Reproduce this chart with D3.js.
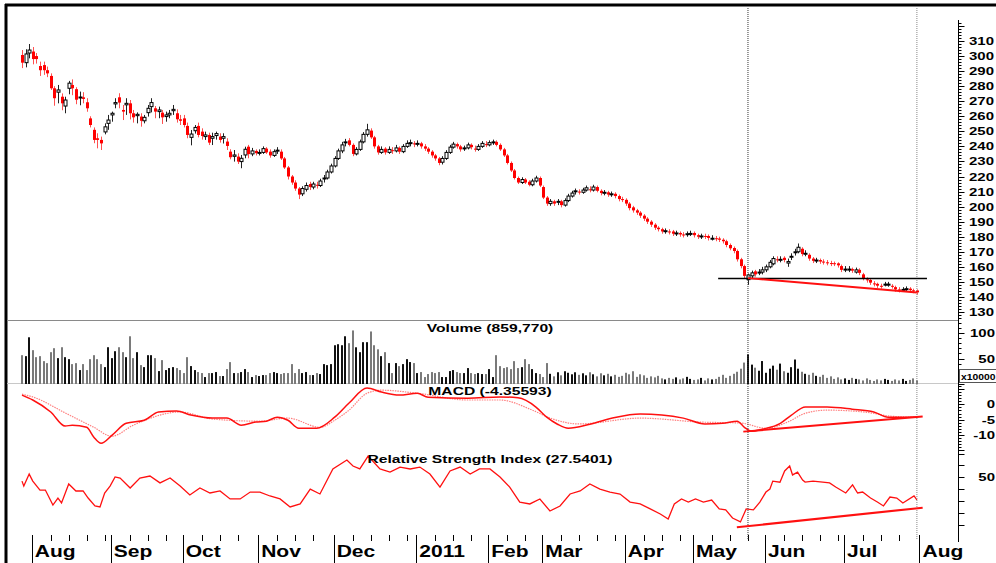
<!DOCTYPE html>
<html>
<head>
  <meta charset="utf-8">
  <title>Price chart</title>
  <script src="https://d3js.org/d3.v7.min.js"></script>
  <style>
    body { margin: 0; background: #fff; }
    text { font-family: "Liberation Sans", Arial, sans-serif; font-weight: bold; fill: #000; }
  </style>
</head>
<body>
<script>
// daily candles, one per trading day
var openP  = [300.7,295.6,302,303,300,293.4,294,290.6,286.8,278.6,276,273,266.8,278.6,280.8,278,272.2,272.6,269.3,258.6,251,245.4,244.3,249.6,255.3,260.9,268.2,272.6,264.2,267.6,268.6,262,260.4,259.8,257,262.4,266.4,265.3,263.1,262.4,259.8,260.9,263.7,262,258,258.6,253.6,246,250.4,253.6,249.8,246.5,247.6,245.4,247.2,246.5,245.4,243.2,236.5,233.4,233.2,229.9,234.3,239.8,
  235,237,235.5,236,238.5,236.5,234,237,236.5,232,
  226,220,216,212,208.5,211.5,215,213,214.5,214,
  218.5,219,223,227,232,237,242.5,244,241,235,
  238,243,248,250.5,246,240,236,238.5,236,237.5,
  237,239,236.5,240,242,242,241.5,242,240,238.5,
  236.5,234,232,229.5,232,236,239.5,241.5,240,238.5,
  239,241,238.5,238,240,241.5,241,242.5,243,241,
  238,234,229,224,219,216,218,216.5,214.5,217,
  219,213,206,202,203.5,203,203.5,201,204,207,
  210,210,209.5,211,211.5,211,213,210.5,209,209.5,
  208,208.5,207,205,204.5,202,199.5,197.5,196,194,
  192,190,188,186,185,183.5,183.5,183.5,182,182.5,
  181.5,181.5,182,182.5,181,180,180.5,180.5,178.5,179,
  178.8,178,177,174.5,172.5,170.5,165,160.5,151.5,154,
  157,156,156.5,158,160,162,165,164.5,166,162.5,
  166.5,169.5,170,172,168.5,168,165.5,164,164.5,163.5,
  163,162.5,162.4,162.3,160.5,158,158,158.5,156.5,158,
  155,151.7,151.3,149,148.7,147.4,148,148.2,147.4,146.5,
  145,144.6,145,145.5,144.4,144.3];
var highP  = [304,304.5,308,306,302,296.3,296.3,293,288.5,280,280.8,275.2,273,283.5,284.5,279.3,276.4,276,272,260,252.6,248.7,246.5,255.3,260.9,263.1,272,275.3,267.5,272,270.8,264.2,262.6,262,260.9,267.5,272,266.8,266.4,264.2,263.1,264.2,267.5,264.6,260.9,260.9,255.8,250.9,254.2,255.8,252,249.8,249.1,249.1,249.8,248.7,248.7,245.4,238.1,237.6,235.4,234.3,239.8,241,
  239,238,238,240,239.5,238,238,239.5,238,233,
  227,221,217.5,213,213.5,216,216.5,216.5,216.5,218.5,
  221,224.5,228.5,233.5,238.5,243,245,245.5,242,239.5,
  244.5,249.5,255,252,247,241,240,239.5,240,239.5,
  241,240,241.5,244,244.5,243.5,244,243,241.5,239.5,
  237.5,235,233,233.5,237.5,241,243,242.5,241,240.5,
  242.5,242,240.5,241.5,243.5,243.5,244,244.5,244,242,
  239,235,230,225,220,219.5,219,217.5,218.5,220.5,
  220,214,207,205,204.5,205,204.5,205.5,208.5,210.5,
  212,211.5,212.5,214,213.5,214.5,214,211.5,211,210.5,
  210,209.5,208,206.5,205.5,203,200.5,198.5,197,195,
  193,191,189,187,186,185.5,185,184.5,184,183.5,
  183,183.5,184,183.5,182,182,182,181.5,181,180.5,
  180,179,178,175.5,173.5,171.5,166,161.5,155.5,157.5,
  158,158.5,160,161.5,164.5,167,167,167,167,165.5,
  169,172,175.5,173,171,169,166.5,166,165.5,165,
  164.5,164,163.5,163,161.5,160.5,160.5,159.5,159.5,159,
  156,153,152.3,150.5,149.5,148.8,150,150,148.5,147.5,
  146.5,146.5,147,146.5,145.5,145];
var lowP   = [292,292.5,298.5,294.5,295,286.8,287.5,286,277.5,267,268.6,264,262,274.6,274,268,267.3,268.6,263,252.6,242.1,238.7,237.6,248,251,256.4,265.3,265.3,257.5,260.9,257.9,255.8,255.3,253.1,255.3,259.8,262.6,258.7,258.7,254.9,256.4,258.7,260.9,255.8,254.2,252.6,245.4,240.7,248.5,246,244.5,244.3,240.9,240.9,244.5,242.5,241.9,237.6,231.4,229.9,228.3,225.5,232.1,232.1,
  233.5,234,234,235,235,232.5,233,235,231,225,
  218,214.5,210.5,205,207,210,211,211.5,212,213,
  216,218,222,226,231,235.5,240,240,233.5,234,
  237,242,246.5,245,238.5,234.5,235,234.5,235,235,
  236,235,235.5,239,240,239.5,240,238.5,237,235,
  232.5,230.5,227.5,228,231,235,238.5,238.5,236.5,237,
  238,238,236.5,237,239,239.5,240,241,240,237,
  233,228,223,218,215,215,215,213.5,213.5,216,
  213,205,200.5,200.5,200.5,201,199.5,200,203,206,
  208,208,208.5,210,209.5,210,209.5,207.5,207.5,206.5,
  206.5,205.5,203.5,203,200.5,197.5,196,194.5,192.5,190.5,
  188.5,186.5,184.5,183.5,182,182,181.5,180.5,180.5,180,
  179.5,180,180.5,179.5,178.5,178.5,178.5,177.5,177.5,177,
  176.5,175.5,173,171,169,163.5,159,152.5,148,152.5,
  153.5,154.5,155,156.5,159,161,163,163,163,160,
  164.5,167.5,169,167,167,164,162.5,162.5,162,161.5,
  161,160.5,160.5,159.5,156.5,156.5,156.5,156,155.5,154.5,
  151,149.5,148,147,146,145.5,147,146.8,145.5,143.5,
  143,143.3,144,143,142.5,141.5];
var closeP = [295.6,301.4,304,298,298,290.6,290.6,288.5,278.6,272,277.5,268.6,270.8,282,278.6,271,272.8,271.5,265.3,254.2,244.3,244.3,242,253,257.5,262,269.1,269.1,263.1,268.6,262,259.3,261.3,257,259.3,265.3,269.1,263.1,264.2,259.3,260.9,262,264.6,258,257,254.2,247.6,248.2,252.6,247.6,246.9,247.6,242.5,246.5,248.5,244.3,246.5,240.3,232.8,234.3,229.9,232.1,238.1,234.9,
  237,235.5,236,238.5,236,234,236.5,237.5,232,226,
  220,216,212,208,212,214,213,215,214,217,
  219,223,227,232,237,241,243,241,235,238,
  243,248,251,246,240,236,238,236,238,237,
  239,236.5,240,242,242.5,241.5,242,240,238.5,236.5,
  234,232,229,232,236,239.5,241.5,240,238,239,
  241,239.5,238,240,242,241,242.5,243,241,238,
  234,229,224,219,216,218,216,214.5,217,219,
  214,206,202,203.5,202,203.5,201,204,207,209,
  210.5,209.5,211,212.5,211,213,210.5,209,209.5,208,
  208.5,207,205,204.5,202,199,197.5,196,194,192,
  190,188,186,185,183.5,184,183,182,182.5,181.5,
  181,182,182.2,181,180,180.5,180,179.2,179,178.5,
  178,177,174.5,172.3,170.5,165,160.5,154,154.6,156,
  155,156.5,158,160,163,165.5,164.5,165,164.5,163.5,
  167,170,173,168.5,169,165.5,164,164.5,163.5,163,
  162.5,162.2,162,161,158,158.5,158.5,157.5,158,156,
  152.5,151.3,149.5,148.5,147.5,147,148.5,148.5,147,145,
  144.5,145,145.5,144.5,144,143];

// volume, units of 10000
var volume = [56.5,54.6,91.6,66.3,52.6,54.6,44.8,40.9,62.4,70.2,
  50.7,72.1,52.6,48.7,39,40.9,27.3,39,27.3,48.7,
  56.5,48.7,39,33.1,72.1,50.7,64.3,72.1,62.4,52.6,
  93.6,50.7,62.4,37,33.1,56.5,56.5,50.7,25.3,46.8,
  27.3,31.2,33.1,31.2,27.3,21.4,52.6,35.1,27.3,23.4,
  21.4,13.6,21.4,21.4,23.4,15.6,15.6,29.2,42.9,21.4,
  21.4,23.4,29.2,23.4,13.6,17.5,15.6,17.5,17.5,21.4,
  23.4,21.4,19.5,21.4,21.4,39,21.4,29.2,21.4,23.4,
  17.5,17.5,21.4,19.5,39,37,39,76,78,76,
  93.6,80,105,72,62.4,82,82,103,76,68,
  54.6,62.4,41,21.4,41,35,39,48.7,43,41,
  21.4,23.4,13.6,19.5,23.4,21.4,23.4,13.6,13.6,25.3,
  27.3,23.4,21.4,21.4,31.2,21.4,19.5,21.4,19.5,19.5,
  29.2,13.6,56.5,35,31.2,33,29.2,44.8,31.2,33,
  48.7,39,29.2,21.4,19.5,13.6,41,
  20,15,23,17,25,22,19,23,18,21,17,23,19,15,21,17,20,15,18,14,
  16,22,19,25,14,19,17,12,15,13,16,11,9,12,10,13,9,11,14,10,
  8,9,12,7,11,9,10,14,18,12,16,20,24,30,42,
  58,38,32,26,45,22,30,36,28,40,25,22,33,48,30,24,20,18,22,
  16,14,18,12,15,10,13,9,11,8,12,10,9,7,11,8,6,9,7,10,8,6,9,7,10,6,8,11,7];

// MACD (index, value)
var macdIdx = [0,3,8,12,14,18,20,22,25,29,34,38,43,47,53,57,61,65,68,71,74,77,82,87,91,96,100,105,110,113,124,133,138,143,146,149,152,158,165,172,178,184,190,195,199,201,203,206,211,214,218,224,231,237,241,249];
var macdVal = [3,1.4,-2.5,-7.1,-6.8,-7.5,-10.7,-12.7,-10.1,-6.2,-5.2,-2.5,-2.2,-3.5,-4.5,-4.5,-6.8,-5.8,-5.5,-4.2,-5.2,-7.8,-7.8,-4.2,0.4,5.3,4,3,3.6,2.3,2,2.4,2.1,-0.9,-4.2,-6.5,-7.8,-6.5,-4.3,-3.2,-3.5,-4.5,-6.4,-6.2,-5.5,-7.5,-8.8,-8.1,-6.2,-3.6,-0.9,-0.9,-1.6,-2.5,-4.2,-4.2];
var sigIdx = [0,3,12,20,25,31,44,53,66,74,83,87,91,96,100,110,124,133,142,147,155,172,189,200,207,213,218,224,235,242,249];
var sigVal = [3.3,2.4,-2.8,-7.5,-10.4,-6.8,-2.5,-4.8,-5.5,-4.5,-7.5,-5.2,-1.9,3.6,4.6,3.6,1.4,1.4,-1.9,-4.5,-6.4,-4.5,-5.8,-6.1,-7.8,-5.8,-2.9,-1.9,-2.6,-3.9,-4.2];

// RSI (index, value)
var rsiIdx = [0,0.5,2,3,5,6.5,8.6,10,11,13,15,17,18.4,20.3,21.7,23,24.5,25.9,27.3,30.1,32.8,35.6,38.4,41.2,44,46.7,49.5,52.3,55.1,57.9,60.7,63.5,66.2,69,71.8,74.6,77.4,80.2,82.9,86.5,90.4,92.1,94,96.3,99.6,102.4,105.2,108,110.7,113.5,116.3,119.1,121.9,124.7,127.3,130.2,133,135.7,138.5,141.3,144.1,146.9,149.7,152.5,155.3,158,160.8,163.6,166.4,169.2,172,174.8,177.6,179.8,181.5,183.5,185.4,187.4,189.6,191.9,194,195.8,197.7,199.9,201.5,203.5,205.3,207,208.1,208.9,210.9,212.2,213.6,214.4,215.8,217.2,217.9,220.1,222.8,224.7,226.4,229.2,231.1,232.5,233.9,236.1,238,239.7,241.5,243.4,245.1,248.2,249];
var rsiVal = [46.8,42.6,52.7,46.8,39.3,39.3,26.7,32.6,28.4,44.4,38.5,38.5,32.6,26,25.1,36.8,42.6,50.3,49.4,41,49.4,51.1,45.3,49.4,42.6,35.1,41,36.8,38.5,31.8,31.8,37.6,37.6,34.3,31.8,25.1,27.6,40.1,36,57,64.5,59.5,57,67.8,57,54.4,58.6,57,58.6,52.7,41.8,55.3,58.6,52.7,57,57,50.3,41.8,29.2,27.6,31.8,21.7,25.9,36,38.5,44.4,40.1,37.6,35.9,29.2,27.6,23.4,19.2,15,27.6,31.8,29.2,31.8,29.2,30.9,23.4,22.6,15.8,12.5,23.4,22.6,29.2,37.6,40.1,46.8,45.9,55.3,59.5,52,54.4,47.7,46,46.8,46,45.3,41.8,36.8,43.6,36.8,37.6,32.6,29.2,25.9,33.4,32.6,28.4,34.3,31];

var months = ["Aug","Sep","Oct","Nov","Dec","2011","Feb","Mar","Apr","May","Jun","Jul","Aug"];
var monthIdx = [3,25,45,66,87,110,130,145,168,187,207,229,250];

var priceTicks = d3.range(130, 311, 10);
var volTicks = [50, 100];
var macdTicks = [0, -5, -10];
var rsiTicks = [50];

var width = 996, height = 563;
var svg = d3.select("body").append("svg").attr("width", width).attr("height", height);

var x = d3.scaleLinear().domain([0, 249]).range([22, 916.9]);
var yP = d3.scaleLinear().domain([130, 310]).range([312, 41]);
var yV = d3.scaleLinear().domain([0, 100]).range([384, 333]);
var yM = d3.scaleLinear().domain([-10, 0]).range([435, 404.3]);
var yR = d3.scaleLinear().domain([10, 50]).range([524.9, 477.3]);

function stretchText(g, str, tx, ty, size, sx, anchor) {
  return g.append("text")
    .attr("transform", "translate(" + tx + "," + ty + ") scale(" + sx + ",1)")
    .attr("font-size", size)
    .attr("text-anchor", anchor || "start")
    .text(str);
}

// frame
svg.append("line").attr("x1", 5).attr("x2", 996).attr("y1", 5).attr("y2", 5).attr("stroke", "#000").attr("stroke-width", 3);
svg.append("line").attr("x1", 6).attr("x2", 6).attr("y1", 4).attr("y2", 563).attr("stroke", "#000").attr("stroke-width", 3);

// panel dividers
svg.append("line").attr("x1", 7).attr("x2", 958).attr("y1", 320.5).attr("y2", 320.5).attr("stroke", "#8a8a8a");
svg.append("line").attr("x1", 7).attr("x2", 958).attr("y1", 383.5).attr("y2", 383.5).attr("stroke", "#c8c8c8");

// right axis
var ax = 958.5;
svg.append("line").attr("x1", ax).attr("x2", ax).attr("y1", 20).attr("y2", 542).attr("stroke", "#000");
var pt = d3.range(122, 325, 2).filter(function (p) { return yP(p) >= 20 && yP(p) <= 319; });
svg.selectAll(".ptick").data(pt).enter().append("line")
  .attr("x1", ax).attr("x2", function (p) { return p % 10 === 0 ? ax + 6 : ax + 3; })
  .attr("y1", function (p) { return Math.round(yP(p)) + 0.5; })
  .attr("y2", function (p) { return Math.round(yP(p)) + 0.5; })
  .attr("stroke", "#000");
priceTicks.forEach(function (p) {
  stretchText(svg, p, 969, yP(p) + 4, 10.7, 1.4);
});
var vt = d3.range(0, 121, 10);
svg.selectAll(".vtick").data(vt).enter().append("line")
  .attr("x1", ax).attr("x2", function (v) { return v % 50 === 0 ? ax + 6 : ax + 3; })
  .attr("y1", function (v) { return Math.round(yV(v)) + 0.5; })
  .attr("y2", function (v) { return Math.round(yV(v)) + 0.5; })
  .attr("stroke", "#000");
volTicks.forEach(function (v) {
  stretchText(svg, v, 995, yV(v) + 4, 10.7, 1.4, "end");
});
svg.append("rect").attr("x", 959.5).attr("y", 369.5).attr("width", 40).attr("height", 13).attr("fill", "#fff").attr("stroke", "#555");
stretchText(svg, "x10000", 961, 380, 9, 1.15);

var mt = d3.range(-15, 7, 1);
svg.selectAll(".mtick").data(mt).enter().append("line")
  .attr("x1", ax).attr("x2", function (v) { return v % 5 === 0 ? ax + 6 : ax + 3; })
  .attr("y1", function (v) { return Math.round(yM(v)) + 0.5; })
  .attr("y2", function (v) { return Math.round(yM(v)) + 0.5; })
  .attr("stroke", "#000");
macdTicks.forEach(function (v) {
  stretchText(svg, v, 995, yM(v) + 4, 10.7, 1.4, "end");
});
var rt = d3.range(10, 71, 10);
svg.selectAll(".rtick").data(rt).enter().append("line")
  .attr("x1", ax).attr("x2", ax + 6)
  .attr("y1", function (v) { return Math.round(yR(v)) + 0.5; })
  .attr("y2", function (v) { return Math.round(yR(v)) + 0.5; })
  .attr("stroke", "#000");
rsiTicks.forEach(function (v) {
  stretchText(svg, v, 995, yR(v) + 4, 10.7, 1.4, "end");
});

// bottom time axis: weekly short ticks, month long ticks
var wk = [];
monthIdx.forEach(function (m, k) {
  var next = k < monthIdx.length - 1 ? monthIdx[k + 1] : 256;
  [5, 10, 15, 20].forEach(function (o) { if (m + o < next - 1 && m + o <= 259) wk.push(m + o); });
});
svg.selectAll(".wtick").data(wk).enter().append("line")
  .attr("x1", function (i) { return Math.round(x(i)) + 0.5; })
  .attr("x2", function (i) { return Math.round(x(i)) + 0.5; })
  .attr("y1", 535).attr("y2", 541).attr("stroke", "#000");
svg.selectAll(".mtick2").data(monthIdx).enter().append("line")
  .attr("x1", function (i) { return Math.round(x(i)) - 0.5; })
  .attr("x2", function (i) { return Math.round(x(i)) - 0.5; })
  .attr("y1", 535).attr("y2", 563).attr("stroke", "#000");
months.forEach(function (m, k) {
  stretchText(svg, m, x(monthIdx[k]) + 2, 557, 16.3, 1.29);
});

// volume bars
svg.selectAll(".vol").data(volume).enter().append("rect")
  .attr("x", function (d, i) { return Math.round(x(i)) - 1; })
  .attr("y", function (d) { return yV(d); })
  .attr("width", 2)
  .attr("height", function (d) { return yV(0) - yV(d); })
  .attr("fill", function (d, i) { return closeP[i] >= openP[i] ? "#111" : "#7a7a7a"; });

// candles
var candles = svg.selectAll(".candle").data(closeP).enter().append("g");
candles.append("line")
  .attr("x1", function (d, i) { return Math.round(x(i)) + 0.5; })
  .attr("x2", function (d, i) { return Math.round(x(i)) + 0.5; })
  .attr("y1", function (d, i) { return yP(highP[i]); })
  .attr("y2", function (d, i) { return yP(lowP[i]); })
  .attr("stroke", function (d, i) { return d < openP[i] ? "#ff5050" : "#222"; });
candles.append("rect")
  .attr("x", function (d, i) { return Math.round(x(i)) - 1; })
  .attr("y", function (d, i) { return yP(Math.max(d, openP[i])); })
  .attr("width", 3)
  .attr("height", function (d, i) { return Math.max(1, Math.abs(yP(d) - yP(openP[i]))); })
  .attr("fill", function (d, i) { return d < openP[i] ? "#ff0000" : "#fff"; })
  .attr("stroke", function (d, i) { return d < openP[i] ? "none" : "#000"; });

// MACD
var macdLine = d3.line().x(function (d) { return x(d[0]); }).y(function (d) { return yM(d[1]); }).curve(d3.curveMonotoneX);
svg.append("path").attr("d", macdLine(sigIdx.map(function (v, k) { return [v, sigVal[k]]; })))
  .attr("fill", "none").attr("stroke", "#ff8080").attr("stroke-width", 1.2).attr("stroke-dasharray", "1.5,1");
svg.append("path").attr("d", macdLine(macdIdx.map(function (v, k) { return [v, macdVal[k]]; })))
  .attr("fill", "none").attr("stroke", "#ff1010").attr("stroke-width", 1.5);

// RSI
var rsiLine = d3.line().x(function (d) { return x(d[0]); }).y(function (d) { return yR(d[1]); });
svg.append("path").attr("d", rsiLine(rsiIdx.map(function (v, k) { return [v, rsiVal[k]]; })))
  .attr("fill", "none").attr("stroke", "#ff1010").attr("stroke-width", 1.3);

// annotations: divergence markers
var divStart = 202, divEnd = 249;
svg.append("line").attr("x1", x(divStart)).attr("x2", x(divStart)).attr("y1", 8).attr("y2", 540)
  .attr("stroke", "#333").attr("stroke-dasharray", "1,1");
svg.append("line").attr("x1", x(divEnd)).attr("x2", x(divEnd)).attr("y1", 8).attr("y2", 540)
  .attr("stroke", "#888").attr("stroke-dasharray", "1,1");
svg.append("line").attr("x1", x(193.7)).attr("x2", x(251.8)).attr("y1", yP(152.2)).attr("y2", yP(152.2))
  .attr("stroke", "#000").attr("stroke-width", 1.5);
svg.append("line").attr("x1", x(202)).attr("x2", x(249)).attr("y1", yP(152.5)).attr("y2", yP(143))
  .attr("stroke", "#ff1010").attr("stroke-width", 2);
svg.append("line").attr("x1", x(200.7)).attr("x2", x(250.6)).attr("y1", yM(-8.9)).attr("y2", yM(-4))
  .attr("stroke", "#ff1010").attr("stroke-width", 2);
svg.append("line").attr("x1", x(198.9)).attr("x2", x(250.6)).attr("y1", yR(8)).attr("y2", yR(24.5))
  .attr("stroke", "#ff1010").attr("stroke-width", 2);

// panel titles
stretchText(svg, "Volume (859,770)", 490, 332, 11.5, 1.36, "middle");
stretchText(svg, "MACD (-4.35593)", 490, 395, 11.5, 1.36, "middle");
stretchText(svg, "Relative Strength Index (27.5401)", 490, 463, 11.5, 1.36, "middle");
</script>
</body>
</html>
